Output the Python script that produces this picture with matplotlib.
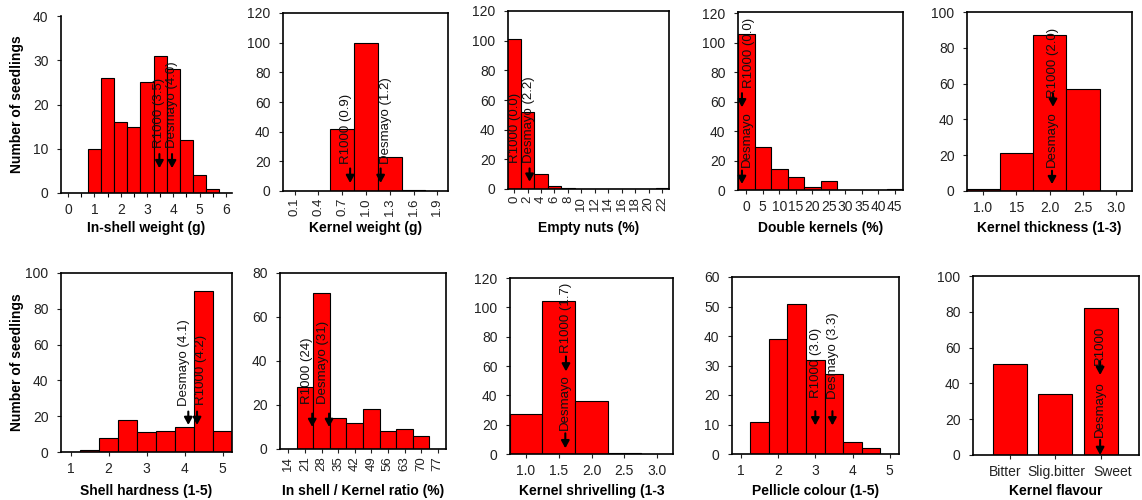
import matplotlib
matplotlib.use('Agg')
import matplotlib.pyplot as plt
from matplotlib.transforms import ScaledTranslation

plt.rcParams['font.family'] = ['Liberation Sans', 'DejaVu Sans']

W, H = 1142, 500

# ---------------- data ----------------
inshell_x = [0.0, 0.5, 1.0, 1.5, 2.0, 2.5, 3.0, 3.5, 4.0, 4.5, 5.0, 5.5, 6.0]
inshell_n = [0, 0, 10, 26, 16, 15, 25, 31, 28, 12, 4, 1, 0]
inshell_ticks = [0, 1, 2, 3, 4, 5, 6]

kernelw_x = [0.1, 0.4, 0.7, 1.0, 1.3, 1.6, 1.9]
kernelw_n = [0, 0, 42, 100, 23, 1, 0]
kernelw_labels = ['0.1', '0.4', '0.7', '1.0', '1.3', '1.6', '1.9']

empty_x = [0, 2, 4, 6, 8, 10, 12, 14, 16, 18, 20, 22]
empty_n = [101, 52, 10, 2, 1, 0, 0, 0, 0, 0, 0, 1]

double_x = [0, 5, 10, 15, 20, 25, 30, 35, 40, 45]
double_n = [106, 29, 14, 9, 2, 6, 0, 0, 0, 1]

thick_x = [1.0, 1.5, 2.0, 2.5, 3.0]
thick_n = [1, 21, 87, 57, 0]
thick_labels = ['1.0', '15', '2.0', '2.5', '3.0']

hard_x = [1.0, 1.5, 2.0, 2.5, 3.0, 3.5, 4.0, 4.5, 5.0]
hard_n = [0, 1, 8, 18, 11, 12, 14, 90, 12]
hard_ticks = [1, 2, 3, 4, 5]

ratio_x = [14, 21, 28, 35, 42, 49, 56, 63, 70, 77]
ratio_n = [0, 28, 71, 14, 12, 18, 8, 9, 6, 0]

shriv_x = [1.0, 1.5, 2.0, 2.5, 3.0]
shriv_n = [27, 104, 36, 0.5, 0]
shriv_labels = ['1.0', '1.5', '2.0', '2.5', '3.0']

pell_x = [1.0, 1.5, 2.0, 2.5, 3.0, 3.5, 4.0, 4.5, 5.0]
pell_n = [0, 11, 39, 51, 32, 27, 4, 2, 0]
pell_ticks = [1, 2, 3, 4, 5]

flavour_cats = ['Bitter', 'Slig.bitter', 'Sweet']
flavour_n = [51, 34, 82]

# ---------------- drawing ----------------
fig = plt.figure(figsize=(W / 100, H / 100), dpi=100)

RED = '#ff0000'
ANN_FS = 9.5


def make_axes(l, r, t, b):
    return fig.add_axes([l / W, 1 - b / H, (r - l) / W, (b - t) / H])


def panel(px, x, n, width, xlim, ylim, yticks, xticks, xlabels, xlabel,
          label_px, rot=0, box=True, ylabel=None, annots=(), minor=None):
    l, r, t, b = px
    ax = make_axes(l, r, t, b)
    ax.bar(x, n, width=width, color=RED, edgecolor='black', linewidth=0.8,
           zorder=2)
    ax.set_xlim(*xlim)
    ax.set_ylim(*ylim)
    ax.set_yticks(yticks)
    ax.set_xticks(xticks)
    ax.set_xticklabels(xlabels, rotation=rot)
    if minor is not None:
        ax.set_xticks(minor, minor=True)
    ax.tick_params(axis='both', which='major', labelsize=10, length=3,
                   width=0.8, colors='#222222', pad=4)
    if rot:
        ax.tick_params(axis='x', labelsize=9.5, pad=2)
    ax.tick_params(axis='x', which='minor', length=3, width=0.8)
    ax.tick_params(axis='y', pad=6)
    for side, sp in ax.spines.items():
        sp.set_linewidth(1.2)
        if not box and side in ('top', 'right'):
            sp.set_visible(False)
    ax.set_xlabel(xlabel, fontsize=10, fontweight='bold', va='center')
    ax.xaxis.set_label_coords(0.5, -(label_px - b) / (b - t))
    if ylabel:
        ax.set_ylabel(ylabel, fontsize=10, fontweight='bold', va='center')
        ax.yaxis.set_label_coords(-(l - 17) / (r - l), 0.5)
    for (txt, tx, ty, axx, ay0, ay1) in annots:
        ax.text(tx, ty, txt, rotation=90, ha='center', va='bottom',
                fontsize=ANN_FS, color='#111111', zorder=4)
        if ay0 is not None:
            ax.annotate('', xy=(axx, ay1), xytext=(axx, ay0),
                        arrowprops=dict(arrowstyle='-|>,head_length=0.55,head_width=0.3',
                                        color='black', lw=1.5, shrinkA=0, shrinkB=0,
                                        mutation_scale=8), zorder=5)
    return ax


# Top row
panel((61, 232, 16, 193), inshell_x, inshell_n, 0.5, (-0.27, 6.23), (0, 40),
      [0, 10, 20, 30, 40], inshell_ticks, [str(v) for v in inshell_ticks],
      'In-shell weight (g)', 228, box=False, ylabel='Number of seedlings',
      minor=[0.5, 1.5, 2.5, 3.5, 4.5, 5.5],
      annots=[('R1000 (3.5)', 3.46, 10.1, 3.47, 8.8, 5.6),
              ('Desmayo (4.0)', 3.94, 10.1, 3.95, 8.8, 5.6)])

panel((283, 448, 13, 191), kernelw_x, kernelw_n, 0.3, (-0.047, 2.035), (0, 120),
      [0, 20, 40, 60, 80, 100, 120], kernelw_x, kernelw_labels,
      'Kernel weight (g)', 228, rot=90,
      annots=[('R1000 (0.9)', 0.75, 18.5, 0.80, 15.2, 5.4),
              ('Desmayo (1.2)', 1.25, 18.5, 1.185, 15.2, 5.4)])

panel((508, 669, 11, 189), empty_x, empty_n, 2.0, (-0.9, 23.0), (0, 120),
      [0, 20, 40, 60, 80, 100, 120], empty_x, [str(v) for v in empty_x],
      'Empty nuts (%)', 228, rot=90,
      annots=[('R1000 (0.0)', 0.15, 17.3, None, None, None),
              ('Desmayo (2.2)', 2.27, 17.3, 2.3, 13.9, 4.9)])

panel((738, 903, 12, 190), double_x, double_n, 5.0, (-2.5, 47.5), (0, 121),
      [0, 20, 40, 60, 80, 100, 120], double_x, [str(v) for v in double_x],
      'Double kernels (%)', 228,
      annots=[('R1000 (0.0)', 0.8, 69.2, -1.3, 65.8, 56.2),
              ('Desmayo', 0.2, 15.5, -1.3, 13.2, 4.1)])

panel((967, 1132, 12, 191), thick_x, thick_n, 0.5, (0.76, 3.235), (0, 100),
      [0, 20, 40, 60, 80, 100], thick_x, thick_labels,
      'Kernel thickness (1-3)', 228,
      annots=[('R1000 (2.0)', 2.05, 51.7, 2.05, 54.5, 47.0),
              ('Desmayo', 2.035, 13.2, 2.035, 11.3, 3.8)])

# Bottom row
panel((61, 232, 273, 452), hard_x, hard_n, 0.5, (0.75, 5.25), (0, 100),
      [0, 20, 40, 60, 80, 100], hard_ticks, [str(v) for v in hard_ticks],
      'Shell hardness (1-5)', 491.5, ylabel='Number of seedlings',
      annots=[('Desmayo (4.1)', 3.98, 25.5, 4.10, 22.6, 15.1),
              ('R1000 (4.2)', 4.44, 26.4, 4.33, 22.6, 15.1)])

panel((280, 446, 273, 449), ratio_x, ratio_n, 7.0, (10.5, 80.5), (0, 80),
      [0, 20, 40, 60, 80], ratio_x, [str(v) for v in ratio_x],
      'In shell / Kernel ratio (%)', 491.5, rot=90,
      annots=[('R1000 (24)', 21.7, 20.3, 24.1, 16.1, 10.0),
              ('Desmayo (31)', 28.7, 20.3, 31.2, 16.1, 10.0)])

panel((510, 673, 278, 454), shriv_x, shriv_n, 0.5, (0.755, 3.245), (0, 120),
      [0, 20, 40, 60, 80, 100, 120], shriv_x, shriv_labels,
      'Kernel shrivelling (1-3', 491.5,
      annots=[('R1000 (1.7)', 1.61, 68.8, 1.61, 66.5, 56.3),
              ('Desmayo', 1.60, 16.4, 1.60, 14.1, 3.9)])

panel((732, 899, 277, 454), pell_x, pell_n, 0.5, (0.76, 5.25), (0, 60),
      [0, 10, 20, 30, 40, 50, 60], pell_ticks, [str(v) for v in pell_ticks],
      'Pellicle colour (1-5)', 491.5,
      annots=[('R1000 (3.0)', 3.01, 19.0, 3.0, 14.5, 9.7),
              ('Desmayo (3.3)', 3.48, 18.8, 3.46, 14.5, 9.7)])

axf = panel((973, 1139, 276, 455), list(range(len(flavour_cats))), flavour_n, 0.75,
            (-0.81, 2.84), (0, 100), [0, 20, 40, 60, 80, 100],
            list(range(len(flavour_cats))), flavour_cats, 'Kernel flavour', 491,
            annots=[('R1000', 1.985, 50.2, 1.985, 52.1, 44.7),
                    ('Desmayo', 1.985, 10.2, 1.985, 8.4, 0.0)])
# category labels sit slightly off their ticks in the original
for lab, dx in zip(axf.get_xticklabels(), [-5, 1, 12]):
    lab.set_transform(lab.get_transform() + ScaledTranslation(dx / 100, 0, fig.dpi_scale_trans))

fig.savefig('out.png', dpi=100)
